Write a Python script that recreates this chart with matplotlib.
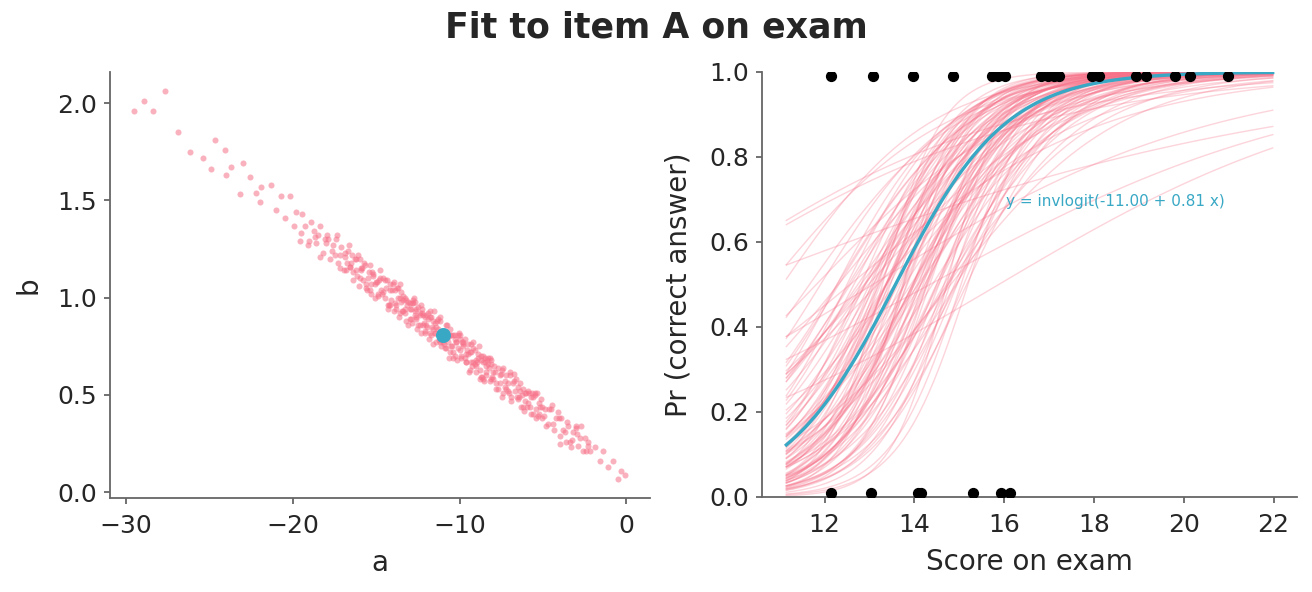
import numpy as np
import matplotlib
matplotlib.use("Agg")
import matplotlib.pyplot as plt

# posterior draws for (a, b)
a_draws = [
    -2.32, -12.6, -8.0, -3.97,
    -29.5, -28.9, -28.4, -27.7, -26.9, -26.2, -24.7, -25.4, -24.9, -24.1,
    -23.7, -24.0, -23.0, -22.6, -23.2, -21.9, -21.3, -22.2, -22.0, -20.7,
    -20.2, -21.0, -20.5,
    -19.8, -19.5, -19.3, -19.1, -18.9, -18.7, -18.6, -18.4, -18.2, -18.0,
    -17.9, -17.8, -17.6, -17.5, -17.4, -17.3, -17.2, -17.1, -19.6, -18.5,
    -16.9, -16.8, -16.7, -16.6, -16.5, -16.4, -16.3, -16.2, -16.1, -16.0,
    -15.9, -15.8, -15.7, -15.6, -15.5, -15.4, -15.3, -15.2, -15.1, -15.0,
    -14.9, -14.8, -14.7, -14.6, -14.5, -14.4, -14.3, -14.2, -14.1, -14.05,
    -16.75, -16.45, -16.15, -15.85, -15.55, -15.25, -14.95, -14.65, -14.35, -14.15,
    -13.9, -13.8, -13.7, -13.6, -13.5, -13.4, -13.3, -13.2, -13.1, -13.0,
    -12.9, -12.8, -12.7, -12.6, -12.5, -12.4, -12.3, -12.2, -12.1, -12.0,
    -11.9, -11.8, -11.7, -11.6, -11.5, -11.4, -11.3, -11.2, -11.1, -11.05,
    -13.85, -13.55, -13.25, -12.95, -12.65, -12.35, -12.05, -11.75, -11.45, -11.15,
    -13.75, -13.45, -13.15, -12.85, -12.55, -12.25, -11.95, -11.65, -11.35, -11.25,
    -13.65, -12.75, -12.15, -11.85, -11.55,
    -10.9, -10.8, -10.7, -10.6, -10.5, -10.4, -10.3, -10.2, -10.1, -10.0,
    -9.9, -9.8, -9.7, -9.6, -9.5, -9.4, -9.3, -9.2, -9.1, -9.0,
    -8.9, -8.8, -8.7, -8.6, -8.5, -8.4, -8.3, -8.2, -8.1, -8.05,
    -10.85, -10.55, -10.25, -9.95, -9.65, -9.35, -9.05, -8.75, -8.45, -8.15,
    -10.75, -10.45, -10.15, -9.85, -9.55, -9.25, -8.95, -8.65, -8.35, -8.25,
    -10.65, -10.05, -9.45, -8.85, -8.55,
    -7.9, -7.8, -7.7, -7.6, -7.5, -7.4, -7.3, -7.2, -7.1, -7.0,
    -6.9, -6.8, -6.7, -6.6, -6.5, -6.4, -6.3, -6.2, -6.1, -6.0,
    -5.9, -5.8, -5.7, -5.6, -5.5, -5.4, -5.3, -5.2, -5.1, -5.05,
    -7.85, -7.45, -7.05, -6.75, -6.45, -6.15, -5.85, -5.65, -5.45, -5.25,
    -4.9, -4.7, -4.5, -4.4, -4.2, -4.0, -3.9, -3.7, -3.5, -3.4,
    -3.2, -3.0, -2.9, -2.8, -2.6, -2.5, -2.3, -2.2, -4.8, -4.1,
    -3.3, -2.7,
    -1.9, -1.6, -1.4, -1.1, -0.8, -0.5, -0.3, -0.06,
    # second batch, filling the dense part of the band
    -19.95, -19.45, -19.05, -18.75, -18.35, -17.95, -17.65, -17.35, -17.15, -18.05,
    -16.95, -16.85, -16.62, -16.38, -16.22, -16.05, -15.92, -15.75, -15.62, -15.45,
    -15.32, -15.18, -15.05, -14.92, -14.78, -14.62, -14.48, -14.32, -14.18, -14.02,
    -16.55, -15.95, -15.35, -14.85, -14.25,
    -13.95, -13.82, -13.68, -13.52, -13.38, -13.22, -13.08, -12.92, -12.78, -12.62,
    -12.48, -12.32, -12.18, -12.02, -11.88, -11.72, -11.58, -11.42, -11.28, -11.12,
    -13.92, -13.58, -13.28, -12.98, -12.68, -12.38, -12.08, -11.78, -11.48, -11.18,
    -13.42, -12.88, -12.28, -11.62, -11.02,
    -10.95, -10.82, -10.68, -10.52, -10.38, -10.22, -10.08, -9.92, -9.78, -9.62,
    -9.48, -9.32, -9.18, -9.02, -8.88, -8.72, -8.58, -8.42, -8.28, -8.12,
    -10.92, -10.58, -10.28, -9.98, -9.68, -9.38, -9.08, -8.78, -8.48, -8.18,
    -10.42, -9.82, -9.22, -8.62, -8.02,
    -7.95, -7.72, -7.58, -7.38, -7.22, -7.08, -6.92, -6.72, -6.58, -6.38,
    -6.22, -6.08, -5.92, -5.72, -5.58, -5.38, -5.22, -5.08, -7.48, -6.98,
    -6.48, -5.98, -5.48, -7.28, -6.28,
    -4.95, -4.62, -4.32, -4.05, -3.82, -3.55, -3.25, -2.95, -4.48, -3.62,
    -2.45, -3.05,
]
b_draws = [
    0.26, 0.90, 0.62, 0.25,
    1.96, 2.01, 1.96, 2.06, 1.85, 1.75, 1.81, 1.72, 1.66, 1.76,
    1.67, 1.63, 1.69, 1.62, 1.53, 1.57, 1.58, 1.54, 1.49, 1.52,
    1.52, 1.45, 1.41,
    1.44, 1.33, 1.37, 1.27, 1.39, 1.31, 1.28, 1.37, 1.23, 1.28,
    1.30, 1.20, 1.27, 1.22, 1.30, 1.18, 1.22, 1.26, 1.29, 1.32,
    1.23, 1.14, 1.24, 1.16, 1.18, 1.09, 1.20, 1.14, 1.22, 1.10,
    1.15, 1.09, 1.17, 1.05, 1.10, 1.17, 1.07, 1.11, 1.00, 1.08,
    1.01, 1.10, 1.04, 1.10, 1.00, 1.05, 0.96, 1.07, 0.99, 1.04,
    1.18, 1.22, 1.11, 1.15, 1.04, 1.13, 1.08, 1.02, 1.09, 0.96,
    1.04, 0.96, 1.05, 0.92, 0.98, 1.01, 0.94, 0.88, 0.98, 0.94,
    0.89, 0.99, 0.91, 0.94, 0.86, 0.92, 0.96, 0.86, 0.82, 0.91,
    0.89, 0.82, 0.90, 0.84, 0.87, 0.77, 0.84, 0.88, 0.78, 0.83,
    0.97, 1.00, 1.00, 0.89, 0.93, 0.86, 0.90, 0.93, 0.82, 0.77,
    1.05, 0.93, 0.96, 0.97, 0.84, 0.92, 0.85, 0.85, 0.88, 0.78,
    0.90, 1.00, 0.87, 0.79, 0.93,
    0.83, 0.74, 0.80, 0.84, 0.75, 0.81, 0.70, 0.77, 0.74, 0.79,
    0.70, 0.75, 0.79, 0.67, 0.71, 0.63, 0.72, 0.74, 0.66, 0.68,
    0.71, 0.63, 0.59, 0.67, 0.69, 0.62, 0.66, 0.57, 0.68, 0.59,
    0.74, 0.81, 0.81, 0.73, 0.67, 0.76, 0.65, 0.68, 0.60, 0.66,
    0.86, 0.75, 0.68, 0.77, 0.73, 0.65, 0.67, 0.59, 0.68, 0.64,
    0.69, 0.82, 0.62, 0.75, 0.57,
    0.62, 0.56, 0.64, 0.56, 0.61, 0.51, 0.57, 0.60, 0.52, 0.60,
    0.49, 0.56, 0.52, 0.58, 0.48, 0.52, 0.44, 0.53, 0.47, 0.51,
    0.52, 0.44, 0.49, 0.40, 0.51, 0.43, 0.39, 0.44, 0.48, 0.38,
    0.53, 0.63, 0.51, 0.61, 0.49, 0.42, 0.51, 0.51, 0.38, 0.46,
    0.43, 0.35, 0.43, 0.35, 0.38, 0.29, 0.38, 0.31, 0.34, 0.26,
    0.31, 0.33, 0.24, 0.28, 0.21, 0.28, 0.24, 0.21, 0.34, 0.41,
    0.23, 0.34,
    0.23, 0.16, 0.21, 0.13, 0.16, 0.07, 0.11, 0.09,
    # second batch
    1.37, 1.43, 1.29, 1.34, 1.21, 1.32, 1.24, 1.32, 1.15, 1.30,
    1.14, 1.21, 1.27, 1.13, 1.20, 1.06, 1.14, 1.18, 1.07, 1.13,
    1.02, 1.12, 1.07, 1.02, 1.14, 1.03, 1.09, 0.94, 1.04, 1.07,
    1.16, 1.20, 1.04, 1.09, 0.96,
    1.08, 0.94, 1.00, 1.03, 0.93, 0.99, 0.86, 0.94, 0.97, 0.89,
    0.95, 0.82, 0.91, 0.86, 0.92, 0.81, 0.76, 0.85, 0.89, 0.75,
    0.93, 1.07, 0.92, 0.97, 0.98, 0.91, 0.83, 0.90, 0.82, 0.90,
    0.99, 0.87, 0.94, 0.88, 0.77,
    0.76, 0.86, 0.77, 0.81, 0.69, 0.77, 0.81, 0.69, 0.76, 0.71,
    0.76, 0.67, 0.77, 0.62, 0.69, 0.70, 0.58, 0.65, 0.69, 0.58,
    0.81, 0.72, 0.79, 0.81, 0.69, 0.72, 0.73, 0.58, 0.67, 0.69,
    0.72, 0.77, 0.67, 0.70, 0.58,
    0.65, 0.53, 0.60, 0.64, 0.53, 0.56, 0.47, 0.57, 0.49, 0.56,
    0.44, 0.51, 0.46, 0.40, 0.49, 0.51, 0.40, 0.44, 0.49, 0.62,
    0.54, 0.44, 0.50, 0.54, 0.50,
    0.39, 0.43, 0.32, 0.38, 0.32, 0.36, 0.27, 0.30, 0.45, 0.26,
    0.21, 0.34,
]

# which draws are shown as curves on the right panel
curve_idx = np.r_[0:4, 15, 24, 27, 30, 32, 35, 37, 40, 42, 45,
                  47:87:2, 87:141:2, 142:192:2, 197:233:3, 240, 246, 252, 257, 260]

# point estimate
a_hat = -11.00
b_hat = 0.81

# exam scores of students who got item A right / wrong
score_right = [12.15, 13.09, 13.96, 14.87, 15.73, 15.86, 16.02, 16.82, 16.97, 17.12,
               17.23, 17.96, 18.11, 18.93, 19.15, 19.80, 20.14, 20.98]
score_wrong = [12.15, 13.03, 14.08, 14.15, 15.31, 15.94, 16.13]

pink = '#f77189'
blue = '#38a8c5'

plt.rcParams['font.family'] = ['DejaVu Sans']
plt.rcParams['axes.edgecolor'] = '#666666'
plt.rcParams['axes.linewidth'] = 1.3
plt.rcParams['xtick.color'] = '#666666'
plt.rcParams['ytick.color'] = '#666666'
plt.rcParams['xtick.labelcolor'] = '#262626'
plt.rcParams['ytick.labelcolor'] = '#262626'
plt.rcParams['xtick.major.size'] = 4.5
plt.rcParams['ytick.major.size'] = 4.5
plt.rcParams['xtick.major.width'] = 1.3
plt.rcParams['ytick.major.width'] = 1.3
plt.rcParams['xtick.major.pad'] = 7
plt.rcParams['ytick.major.pad'] = 5
plt.rcParams['xtick.labelsize'] = 18
plt.rcParams['ytick.labelsize'] = 18
plt.rcParams['axes.labelsize'] = 20
plt.rcParams['axes.labelpad'] = 8
plt.rcParams['axes.labelcolor'] = '#262626'

fig = plt.figure(figsize=(13.12, 5.92), dpi=100)
ax1 = fig.add_axes([0.0838, 0.1588, 0.4116, 0.7196])
ax2 = fig.add_axes([0.5808, 0.1605, 0.4078, 0.7179])

a_arr = np.array(a_draws)
b_arr = np.array(b_draws)

# left: joint posterior of a and b
ax1.scatter(a_arr, b_arr, s=19, color=pink, alpha=0.55, linewidths=0)
ax1.scatter([a_hat], [b_hat], s=95, color=blue, zorder=3)
ax1.set_xticks([-30, -20, -10, 0])
ax1.set_yticks([0.0, 0.5, 1.0, 1.5, 2.0])
ax1.set_xlabel('a')
ax1.set_ylabel('b', labelpad=10)

# right: fitted curves
all_scores = np.array(score_right + score_wrong)
xx = np.linspace(all_scores.min() - 1, all_scores.max() + 1, 100)
for i in curve_idx:
    yy = 1 / (1 + np.exp(-(a_arr[i] + b_arr[i] * xx)))
    ax2.plot(xx, yy, color=pink, alpha=0.3, lw=1)
ax2.plot(xx, 1 / (1 + np.exp(-(a_hat + b_hat * xx))), color=blue, lw=2.4)
ax2.scatter(score_right, np.full(len(score_right), 0.99), s=50, color='black', zorder=4)
ax2.scatter(score_wrong, np.full(len(score_wrong), 0.01), s=50, color='black', zorder=4)
ax2.text(16.05, 0.695, 'y = invlogit(%.2f + %.2f x)' % (a_hat, b_hat),
         color=blue, fontsize=11, va='center')
ax2.set_ylim(0, 1)
ax2.set_xticks([12, 14, 16, 18, 20, 22])
ax2.set_yticks([0.0, 0.2, 0.4, 0.6, 0.8, 1.0])
ax2.set_xlabel('Score on exam')
ax2.set_ylabel('Pr (correct answer)', labelpad=12)

for ax in [ax1, ax2]:
    ax.spines['top'].set_visible(False)
    ax.spines['right'].set_visible(False)

fig.suptitle('Fit to item A on exam', fontsize=25, fontweight='bold', color='#262626', y=0.982)
fig.savefig('out.png', dpi=100)
